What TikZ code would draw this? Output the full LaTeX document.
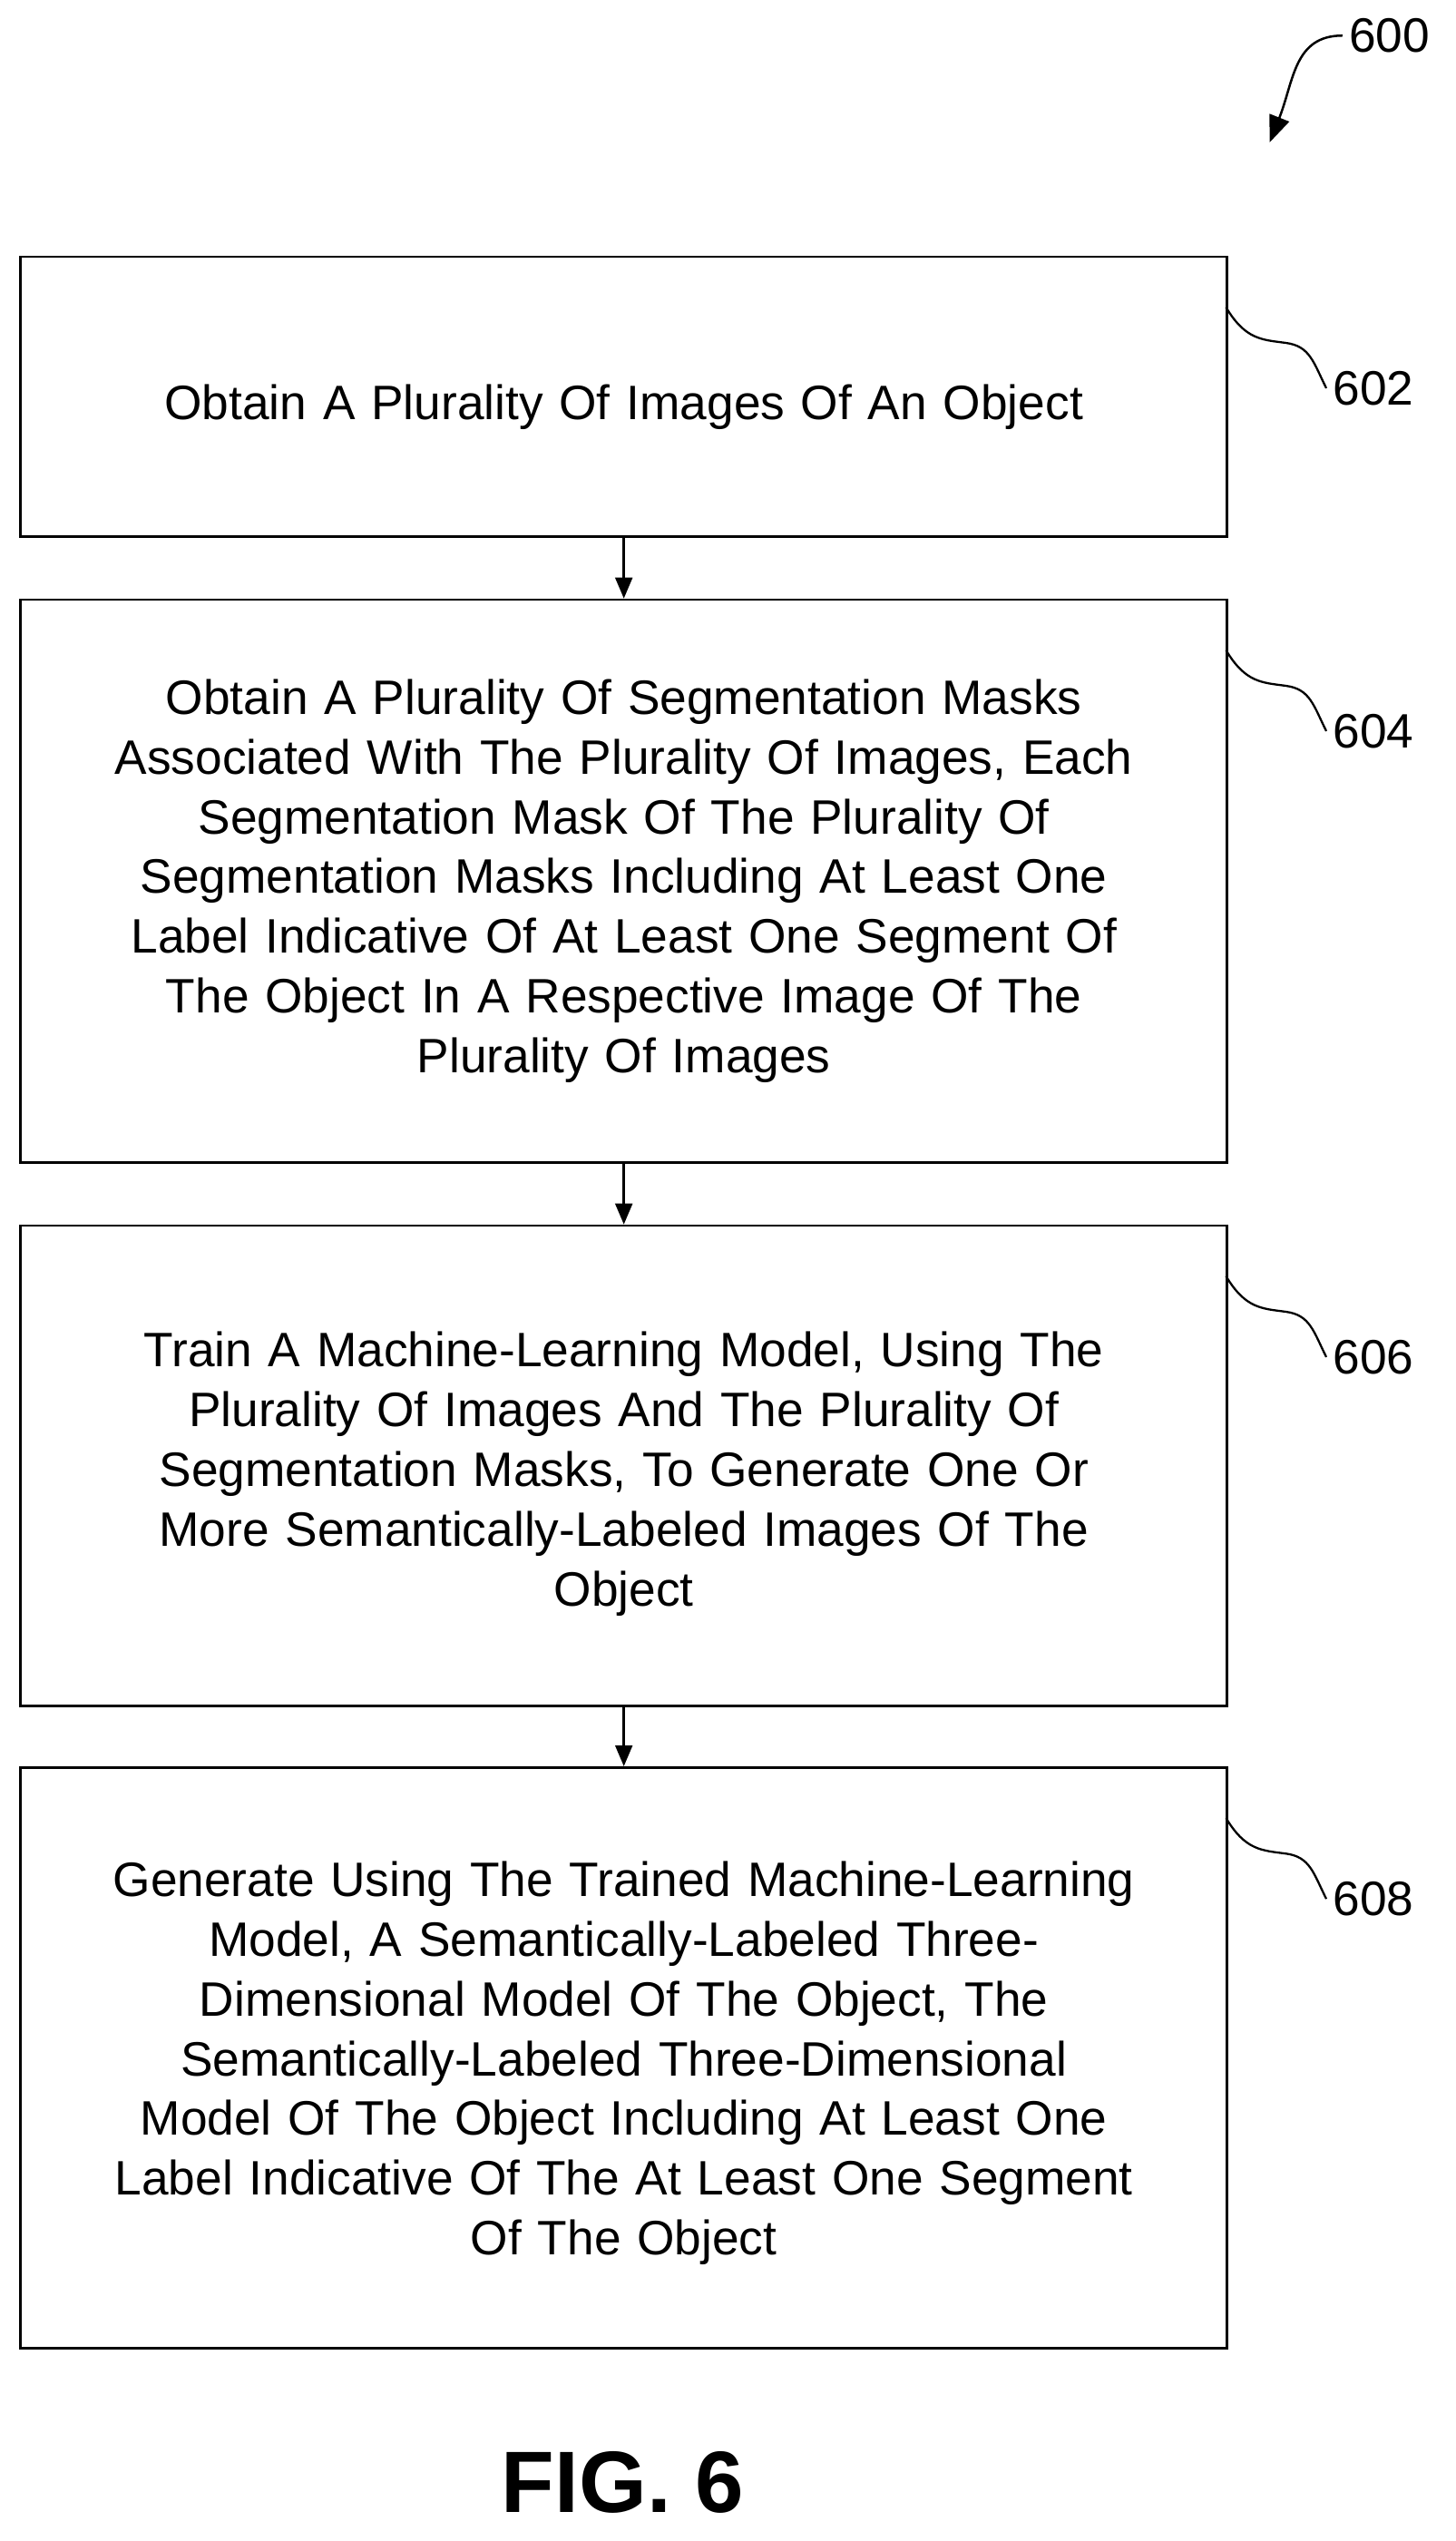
\documentclass[tikz,border=0pt]{standalone}
\usepackage{fontspec}
\setmainfont{Liberation Sans}
\usetikzlibrary{arrows.meta}
\begin{document}
\begin{tikzpicture}[x=0.03cm,y=-0.03cm,
  stepbox/.style={draw,line width=1.2pt,anchor=north west,inner sep=0pt},
  txt/.style={align=center,text width=22cm,font=\fontsize{25.5}{31.5}\selectfont},
  ref/.style={font=\fontsize{25.5}{28}\selectfont,anchor=west},
  arr/.style={line width=1.2pt,-{Triangle[length=11pt,width=9pt]}},
  sq/.style={line width=1.1pt}]
\useasboundingbox (0,0) rectangle (900,1571);
\node[stepbox,minimum width=746*0.03cm,minimum height=173*0.03cm] (b1) at (12,158) {};
\node[stepbox,minimum width=746*0.03cm,minimum height=348*0.03cm] (b2) at (12,370) {};
\node[stepbox,minimum width=746*0.03cm,minimum height=297*0.03cm] (b3) at (12,757) {};
\node[stepbox,minimum width=746*0.03cm,minimum height=359*0.03cm] (b4) at (12,1092) {};
\node[txt] (t1) at ([yshift=-0.2cm]b1.center) {Obtain A Plurality Of Images Of An Object};
\node[txt] (t2) at (b2.center) {Obtain A Plurality Of Segmentation Masks\\Associated With The Plurality Of Images, Each\\Segmentation Mask Of The Plurality Of\\Segmentation Masks Including At Least One\\Label Indicative Of At Least One Segment Of\\The Object In A Respective Image Of The\\Plurality Of Images};
\node[txt] (t3) at ([yshift=-0.15cm]b3.center) {Train A Machine-Learning Model, Using The\\Plurality Of Images And The Plurality Of\\Segmentation Masks, To Generate One Or\\More Semantically-Labeled Images Of The\\Object};
\node[txt] (t4) at ([yshift=-0.1cm]b4.center) {Generate Using The Trained Machine-Learning\\Model, A Semantically-Labeled Three-\\Dimensional Model Of The Object, The\\Semantically-Labeled Three-Dimensional\\Model Of The Object Including At Least One\\Label Indicative Of The At Least One Segment\\Of The Object};
\draw[arr] (b1.south) -- (b2.north);
\draw[arr] (b2.south) -- (b3.north);
\draw[arr] (b3.south) -- (b4.north);
\foreach \b/\n/\y in {b1/602/190,b2/604/402,b3/606/789,b4/608/1124}{
  \node[ref] (r\n) at (820,\y+50) {\n};
  \draw[sq] (758,\y) .. controls (770,\y+20) and (780,\y+20) .. (795,\y+22) .. controls (810,\y+24) and (812,\y+34) .. (r\n.west);
}
\node[ref] (r600) at (830,22) {600};
\coordinate (a600) at (785,88);
\draw[line width=1.2pt,-{Triangle[length=14pt,width=11pt]}] (r600.west) .. controls (800,22) and (800,50) .. (a600);
\node[font=\bfseries\fontsize{46}{50}\selectfont] (fig) at (385,1535) {FIG. 6};
\end{tikzpicture}
\end{document}
